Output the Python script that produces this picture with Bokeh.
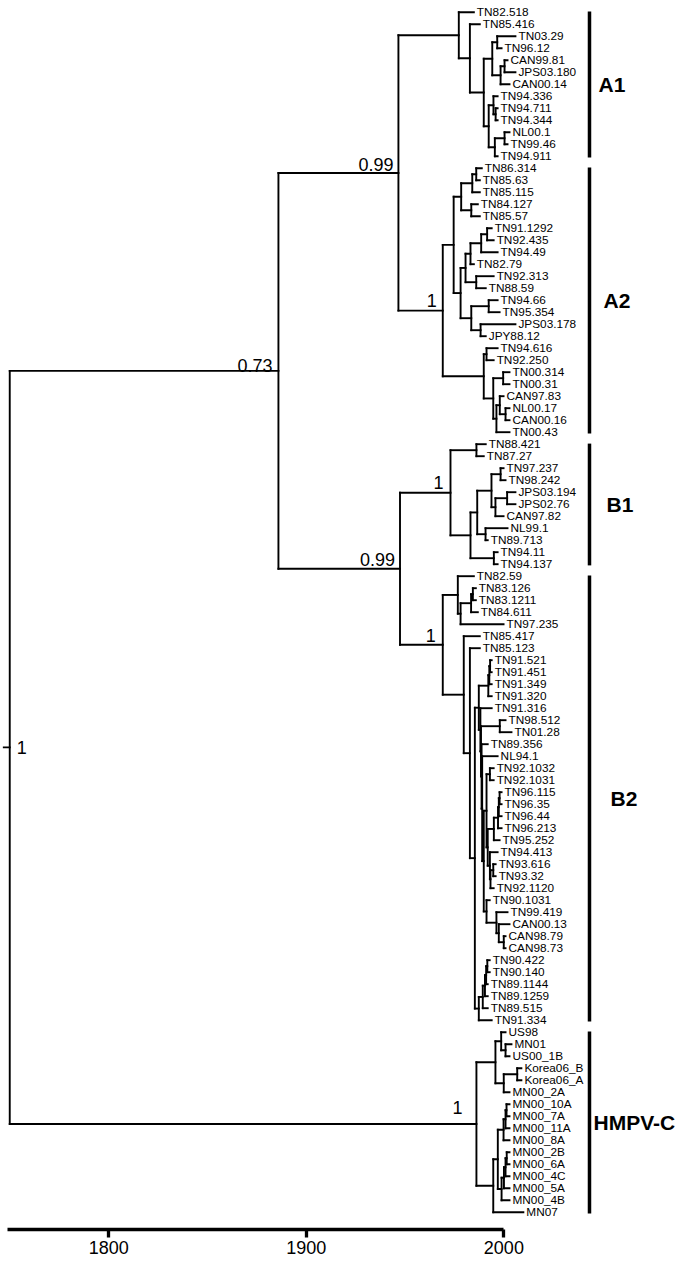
from bokeh.plotting import figure
from bokeh.models import ColumnDataSource, Range1d, LinearAxis, FixedTicker
from bokeh.core.properties import value
from bokeh.embed import file_html
from bokeh.resources import INLINE

# ---------------- data ----------------
leaf_names = [
    "TN82.518", "TN85.416", "TN03.29", "TN96.12", "CAN99.81", "JPS03.180", "CAN00.14",
    "TN94.336", "TN94.711", "TN94.344", "NL00.1", "TN99.46", "TN94.911",
    "TN86.314", "TN85.63", "TN85.115", "TN84.127", "TN85.57", "TN91.1292", "TN92.435",
    "TN94.49", "TN82.79", "TN92.313", "TN88.59", "TN94.66", "TN95.354", "JPS03.178",
    "JPY88.12", "TN94.616", "TN92.250", "TN00.314", "TN00.31", "CAN97.83", "NL00.17",
    "CAN00.16", "TN00.43",
    "TN88.421", "TN87.27", "TN97.237", "TN98.242", "JPS03.194", "JPS02.76", "CAN97.82",
    "NL99.1", "TN89.713", "TN94.11", "TN94.137",
    "TN82.59", "TN83.126", "TN83.1211", "TN84.611", "TN97.235", "TN85.417", "TN85.123",
    "TN91.521", "TN91.451", "TN91.349", "TN91.320", "TN91.316", "TN98.512", "TN01.28",
    "TN89.356", "NL94.1", "TN92.1032", "TN92.1031", "TN96.115", "TN96.35", "TN96.44",
    "TN96.213", "TN95.252", "TN94.413", "TN93.616", "TN93.32", "TN92.1120", "TN90.1031",
    "TN99.419", "CAN00.13", "CAN98.79", "CAN98.73", "TN90.422", "TN90.140", "TN89.1144",
    "TN89.1259", "TN89.515", "TN91.334",
    "US98", "MN01", "US00_1B", "Korea06_B", "Korea06_A", "MN00_2A", "MN00_10A", "MN00_7A",
    "MN00_11A", "MN00_8A", "MN00_2B", "MN00_6A", "MN00_4C", "MN00_5A", "MN00_4B", "MN07",
]
leaf_years = [
    1982, 1985, 2003, 1996, 1999, 2003, 2000,
    1994, 1994, 1994, 2000, 1999, 1994,
    1986, 1985, 1985, 1984, 1985, 1991, 1992,
    1994, 1982, 1992, 1988, 1994, 1995, 2003,
    1988, 1994, 1992, 2000, 2000, 1997, 2000,
    2000, 2000,
    1988, 1987, 1997, 1998, 2003, 2003, 1997,
    1999, 1989, 1994, 1994,
    1982, 1983, 1983, 1984, 1997, 1985, 1985,
    1991, 1991, 1991, 1991, 1991, 1998, 2001,
    1989, 1994, 1992, 1992, 1996, 1996, 1996,
    1996, 1995, 1994, 1993, 1993, 1992, 1990,
    1999, 2000, 1998, 1998, 1990, 1990, 1989,
    1989, 1989, 1991,
    1998, 2001, 2000, 2006, 2006, 2000, 2000, 2000,
    2000, 2000, 2000, 2000, 2000, 2000, 2000, 2007,
]
leaf_parents = [
    "A1", "a1_x1", "a1_x3a", "a1_x3a", "a1_x3c", "a1_x3c", "a1_x3b",
    "a1_x4a", "a1_x4a2", "a1_x4a2", "a1_x4b2", "a1_x4b2", "a1_x4b",
    "a2a1_tt", "a2a1_tt", "a2a1_t", "a2a1_p", "a2a1_p", "a2a2a_p", "a2a2a_p",
    "a2a2a_t", "a2a2a_q", "a2a2a_r", "a2a2a_r", "a2a2b_p", "a2a2b_p", "a2a2b_q",
    "a2a2b_q", "a2b_p", "a2b_p", "a2b_q1", "a2b_q1", "a2b_q3", "a2b_q4",
    "a2b_q4", "a2b_q2",
    "b1_p", "b1_p", "b1d_p", "b1d_p", "b1d_r", "b1d_r", "b1d_q",
    "b1e", "b1e", "b1f", "b1f",
    "b2a", "b2a4", "b2a4", "b2a3", "b2a2", "b2b", "b2c",
    "b2t3", "b2t3", "b2t2", "b2t", "b2x1", "b2x2p", "b2x2p",
    "b2x3", "b2x4", "b2z1p", "b2z1p", "b2w3", "b2w3", "b2w2",
    "b2w", "b2z1c", "b2z1d", "b2z1f", "b2z1f", "b2z1e", "b2z2",
    "b2c1", "b2c2", "b2c3", "b2c3", "b2f1", "b2f1", "b2f2",
    "b2f3", "b2f4", "b2f",
    "hc1a", "hc1a2", "hc1a2", "hc1b2", "hc1b2", "hc1b", "hc2s1c", "hc2s1c",
    "hc2s1b", "hc2s1", "hc2s2d", "hc2s2d", "hc2s2c", "hc2s2b", "hc2s2", "hc2",
]

node_names = [
    "root", "AB", "A", "B",
    "A1", "a1_x1", "a1_x2", "a1_x3", "a1_x3a", "a1_x3b", "a1_x3c",
    "a1_x4", "a1_x4a", "a1_x4a2", "a1_x4b", "a1_x4b2",
    "A2", "a2a", "a2a1", "a2a1_t", "a2a1_tt", "a2a1_p",
    "a2a2", "a2a2a", "a2a2a_q", "a2a2a_t", "a2a2a_p", "a2a2a_r",
    "a2a2b", "a2a2b_p", "a2a2b_q",
    "a2b", "a2b_p", "a2b_q", "a2b_q1", "a2b_q2", "a2b_q3", "a2b_q4",
    "B1", "b1_p", "b1b", "b1c", "b1d", "b1d_p", "b1d_q", "b1d_r", "b1e", "b1f",
    "B2", "b2a", "b2a2", "b2a3", "b2a4", "b2b", "b2c", "b2d",
    "b2x", "b2t", "b2t2", "b2t3", "b2x1", "b2x2", "b2x2p", "b2x3", "b2x4", "b2x5",
    "b2z1", "b2z1p", "b2z1b", "b2z1c", "b2w", "b2w2", "b2w3",
    "b2z1d", "b2z1e", "b2z1f", "b2z2", "b2c1", "b2c2", "b2c3",
    "b2f", "b2f4", "b2f3", "b2f2", "b2f1",
    "HC", "hc1", "hc1a", "hc1a2", "hc1b", "hc1b2",
    "hc2", "hc2a", "hc2s1", "hc2s1b", "hc2s1c", "hc2s2", "hc2s2b", "hc2s2c", "hc2s2d",
]
node_parents = [
    None, "root", "AB", "AB",
    "A", "A1", "a1_x1", "a1_x2", "a1_x3", "a1_x3", "a1_x3b",
    "a1_x2", "a1_x4", "a1_x4a", "a1_x4", "a1_x4b",
    "A", "A2", "a2a", "a2a1", "a2a1_t", "a2a1",
    "a2a", "a2a2", "a2a2a", "a2a2a_q", "a2a2a_t", "a2a2a",
    "a2a2", "a2a2b", "a2a2b",
    "A2", "a2b", "a2b", "a2b_q", "a2b_q", "a2b_q2", "a2b_q3",
    "B", "B1", "B1", "b1b", "b1c", "b1d", "b1d", "b1d_q", "b1c", "b1b",
    "B", "B2", "b2a", "b2a2", "b2a3", "B2", "b2b", "b2c",
    "b2d", "b2x", "b2t", "b2t2", "b2x", "b2x1", "b2x2", "b2x2", "b2x3", "b2x4",
    "b2x5", "b2z1", "b2z1", "b2z1b", "b2z1c", "b2w", "b2w2",
    "b2z1b", "b2z1d", "b2z1e", "b2x5", "b2z2", "b2c1", "b2c2",
    "b2d", "b2f", "b2f4", "b2f3", "b2f2",
    "root", "HC", "hc1", "hc1a", "hc1", "hc1b",
    "HC", "hc2", "hc2a", "hc2s1", "hc2s1b", "hc2a", "hc2s2", "hc2s2b", "hc2s2c",
]
node_years = [
    1747.6, 1883.3, 1943.9, 1944.7,
    1974.4, 1980.0, 1987.0, 1991.3, 1993.8, 1995.5, 1997.5,
    1989.5, 1991.9, 1993.0, 1992.6, 1997.5,
    1966.3, 1971.8, 1975.6, 1981.2, 1983.2, 1980.7,
    1975.3, 1977.8, 1980.3, 1985.7, 1988.7, 1983.2,
    1980.7, 1989.5, 1985.4,
    1987.0, 1988.4, 1991.8, 1996.8, 1993.4, 1995.1, 1998.0,
    1970.2, 1983.3, 1980.3, 1983.7, 1990.9, 1995.5, 1992.9, 1998.8, 1987.9, 1992.1,
    1966.3, 1973.9, 1975.3, 1980.6, 1981.5, 1976.9, 1980.0, 1982.5,
    1984.5, 1989.3, 1989.8, 1990.2, 1985.3, 1985.6, 1995.1, 1985.9, 1986.2, 1987.0,
    1988.4, 1990.1, 1989.0, 1992.1, 1994.2, 1994.6, 1995.0,
    1990.1, 1990.4, 1991.8, 1988.4, 1993.4, 1994.6, 1997.1,
    1984.5, 1986.5, 1987.6, 1988.2, 1988.8,
    1983.3, 1992.9, 1995.8, 1998.0, 1997.1, 2003.9,
    1991.8, 1994.1, 1997.0, 1998.0, 1998.5, 1996.0, 1997.2, 1998.0, 1998.6,
]

support_nodes = ["root", "AB", "A", "A2", "B", "B1", "B2", "HC"]
support_values = ["1", "0.73", "0.99", "1", "0.99", "1", "1", "1"]

clade_names = ["A1", "A2", "B1", "B2", "HMPV-C"]
clade_first = ["TN82.518", "TN86.314", "TN88.421", "TN82.59", "US98"]
clade_last = ["TN94.911", "TN00.43", "TN94.137", "TN91.334", "MN07"]

tick_values = [1800, 1900, 2000]
tick_labels = ["1800", "1900", "2000"]

# ---------------- layout helpers (styling/positions) ----------------
FONT = "Liberation Sans"
support_dx = {"root": 7, "AB": -6, "A": -5, "A2": -6, "B": -5, "B1": -7, "B2": -7, "HC": -14}
support_dy = {"root": 0, "AB": -5, "A": -8, "A2": -10, "B": -9, "B1": -10, "B2": -9, "HC": -16}
clade_dx = [9, 14, 17, 21, 4]
bar_x = 2040.4
root_stub = 3.0

# ---------------- tree geometry ----------------
children = {}
for n, par in zip(leaf_names, leaf_parents):
    children.setdefault(par, []).append(n)
for n, par in zip(node_names, node_parents):
    if par is not None:
        children.setdefault(par, []).append(n)

xpos = dict(zip(leaf_names, leaf_years))
xpos.update(zip(node_names, node_years))
ypos = {n: float(i) for i, n in enumerate(leaf_names)}


def get_y(n):
    if n in ypos:
        return ypos[n]
    ys = [get_y(c) for c in children[n]]
    ypos[n] = (min(ys) + max(ys)) / 2.0
    return ypos[n]


for n in node_names:
    get_y(n)

parent_of = dict(zip(leaf_names, leaf_parents))
parent_of.update(zip(node_names, node_parents))

hx0, hx1, hy = [], [], []
for n, par in parent_of.items():
    if par is None:
        continue
    hx0.append(xpos[par])
    hx1.append(xpos[n])
    hy.append(ypos[n])
root_name = node_names[0]
hx0.append(xpos[root_name] - root_stub)
hx1.append(xpos[root_name])
hy.append(ypos[root_name])

vx, vy0, vy1 = [], [], []
for n in node_names:
    ys = [ypos[c] for c in children[n]]
    vx.append(xpos[n])
    vy0.append(min(ys))
    vy1.append(max(ys))

# ---------------- figure ----------------
p = figure(
    width=685, height=1263,
    x_range=Range1d(1742.93, 2088.89),
    y_range=Range1d(101.442, -0.975),
    output_backend="svg", toolbar_location=None,
    x_axis_location=None, y_axis_location=None,
    min_border_left=0, min_border_right=0, min_border_top=0, min_border_bottom=34,
)
p.outline_line_color = None
p.grid.visible = False
p.background_fill_color = "white"
p.border_fill_color = "white"

p.segment(x0="x0", y0="y", x1="x1", y1="y",
          source=ColumnDataSource(dict(x0=hx0, x1=hx1, y=hy)),
          line_color="black", line_width=1.9, line_cap="square")
p.segment(x0="x", y0="y0", x1="x", y1="y1",
          source=ColumnDataSource(dict(x=vx, y0=vy0, y1=vy1)),
          line_color="black", line_width=1.9, line_cap="square")

# leaf labels
p.text(x="x", y="y", text="t",
       source=ColumnDataSource(dict(x=leaf_years, y=[ypos[n] for n in leaf_names], t=leaf_names)),
       text_font=value(FONT), text_font_size="11.8px", text_color="black",
       text_align="left", text_baseline="middle", x_offset=3)

# support values
sup_src = ColumnDataSource(dict(
    x=[xpos[n] for n in support_nodes],
    y=[ypos[n] for n in support_nodes],
    t=support_values,
    dx=[support_dx[n] for n in support_nodes],
    dy=[support_dy[n] for n in support_nodes],
    align=["left" if n == "root" else "right" for n in support_nodes],
    base=["middle" if n == "root" else "alphabetic" for n in support_nodes],
))
p.text(x="x", y="y", text="t", source=sup_src,
       text_font=value(FONT), text_font_size="18px", text_color="black",
       text_align="align", text_baseline="base", x_offset="dx", y_offset="dy")

# clade bars and names
c_y0 = [ypos[n] - 0.05 for n in clade_first]
c_y1 = [ypos[n] + 0.1 for n in clade_last]
p.segment(x0=bar_x, y0="y0", x1=bar_x, y1="y1",
          source=ColumnDataSource(dict(y0=c_y0, y1=c_y1)),
          line_color="black", line_width=3.5)
p.text(x=bar_x, y="y", text="t",
       source=ColumnDataSource(dict(y=[(a + b) / 2 for a, b in zip(c_y0, c_y1)], t=clade_names, dx=clade_dx)),
       text_font=value(FONT), text_font_style="bold", text_font_size="21px", text_color="black",
       text_align="left", text_baseline="middle", x_offset="dx")

# time axis
p.extra_x_ranges = {"axis": Range1d(1745.16, 2091.95)}
ax = LinearAxis(x_range_name="axis", ticker=FixedTicker(ticks=tick_values),
                bounds=(1748.6, 2000))
ax.major_label_overrides = dict(zip(tick_values, tick_labels))
ax.axis_line_width = 3.3
ax.axis_line_color = "black"
ax.major_tick_line_width = 3.3
ax.major_tick_line_color = "black"
ax.major_tick_out = 8
ax.major_tick_in = 0
ax.minor_tick_line_color = None
ax.major_label_text_font = FONT
ax.major_label_text_font_size = "18px"
ax.major_label_text_color = "black"
ax.major_label_standoff = 3
p.add_layout(ax, "below")

open("out.html", "w").write(file_html(p, INLINE))
